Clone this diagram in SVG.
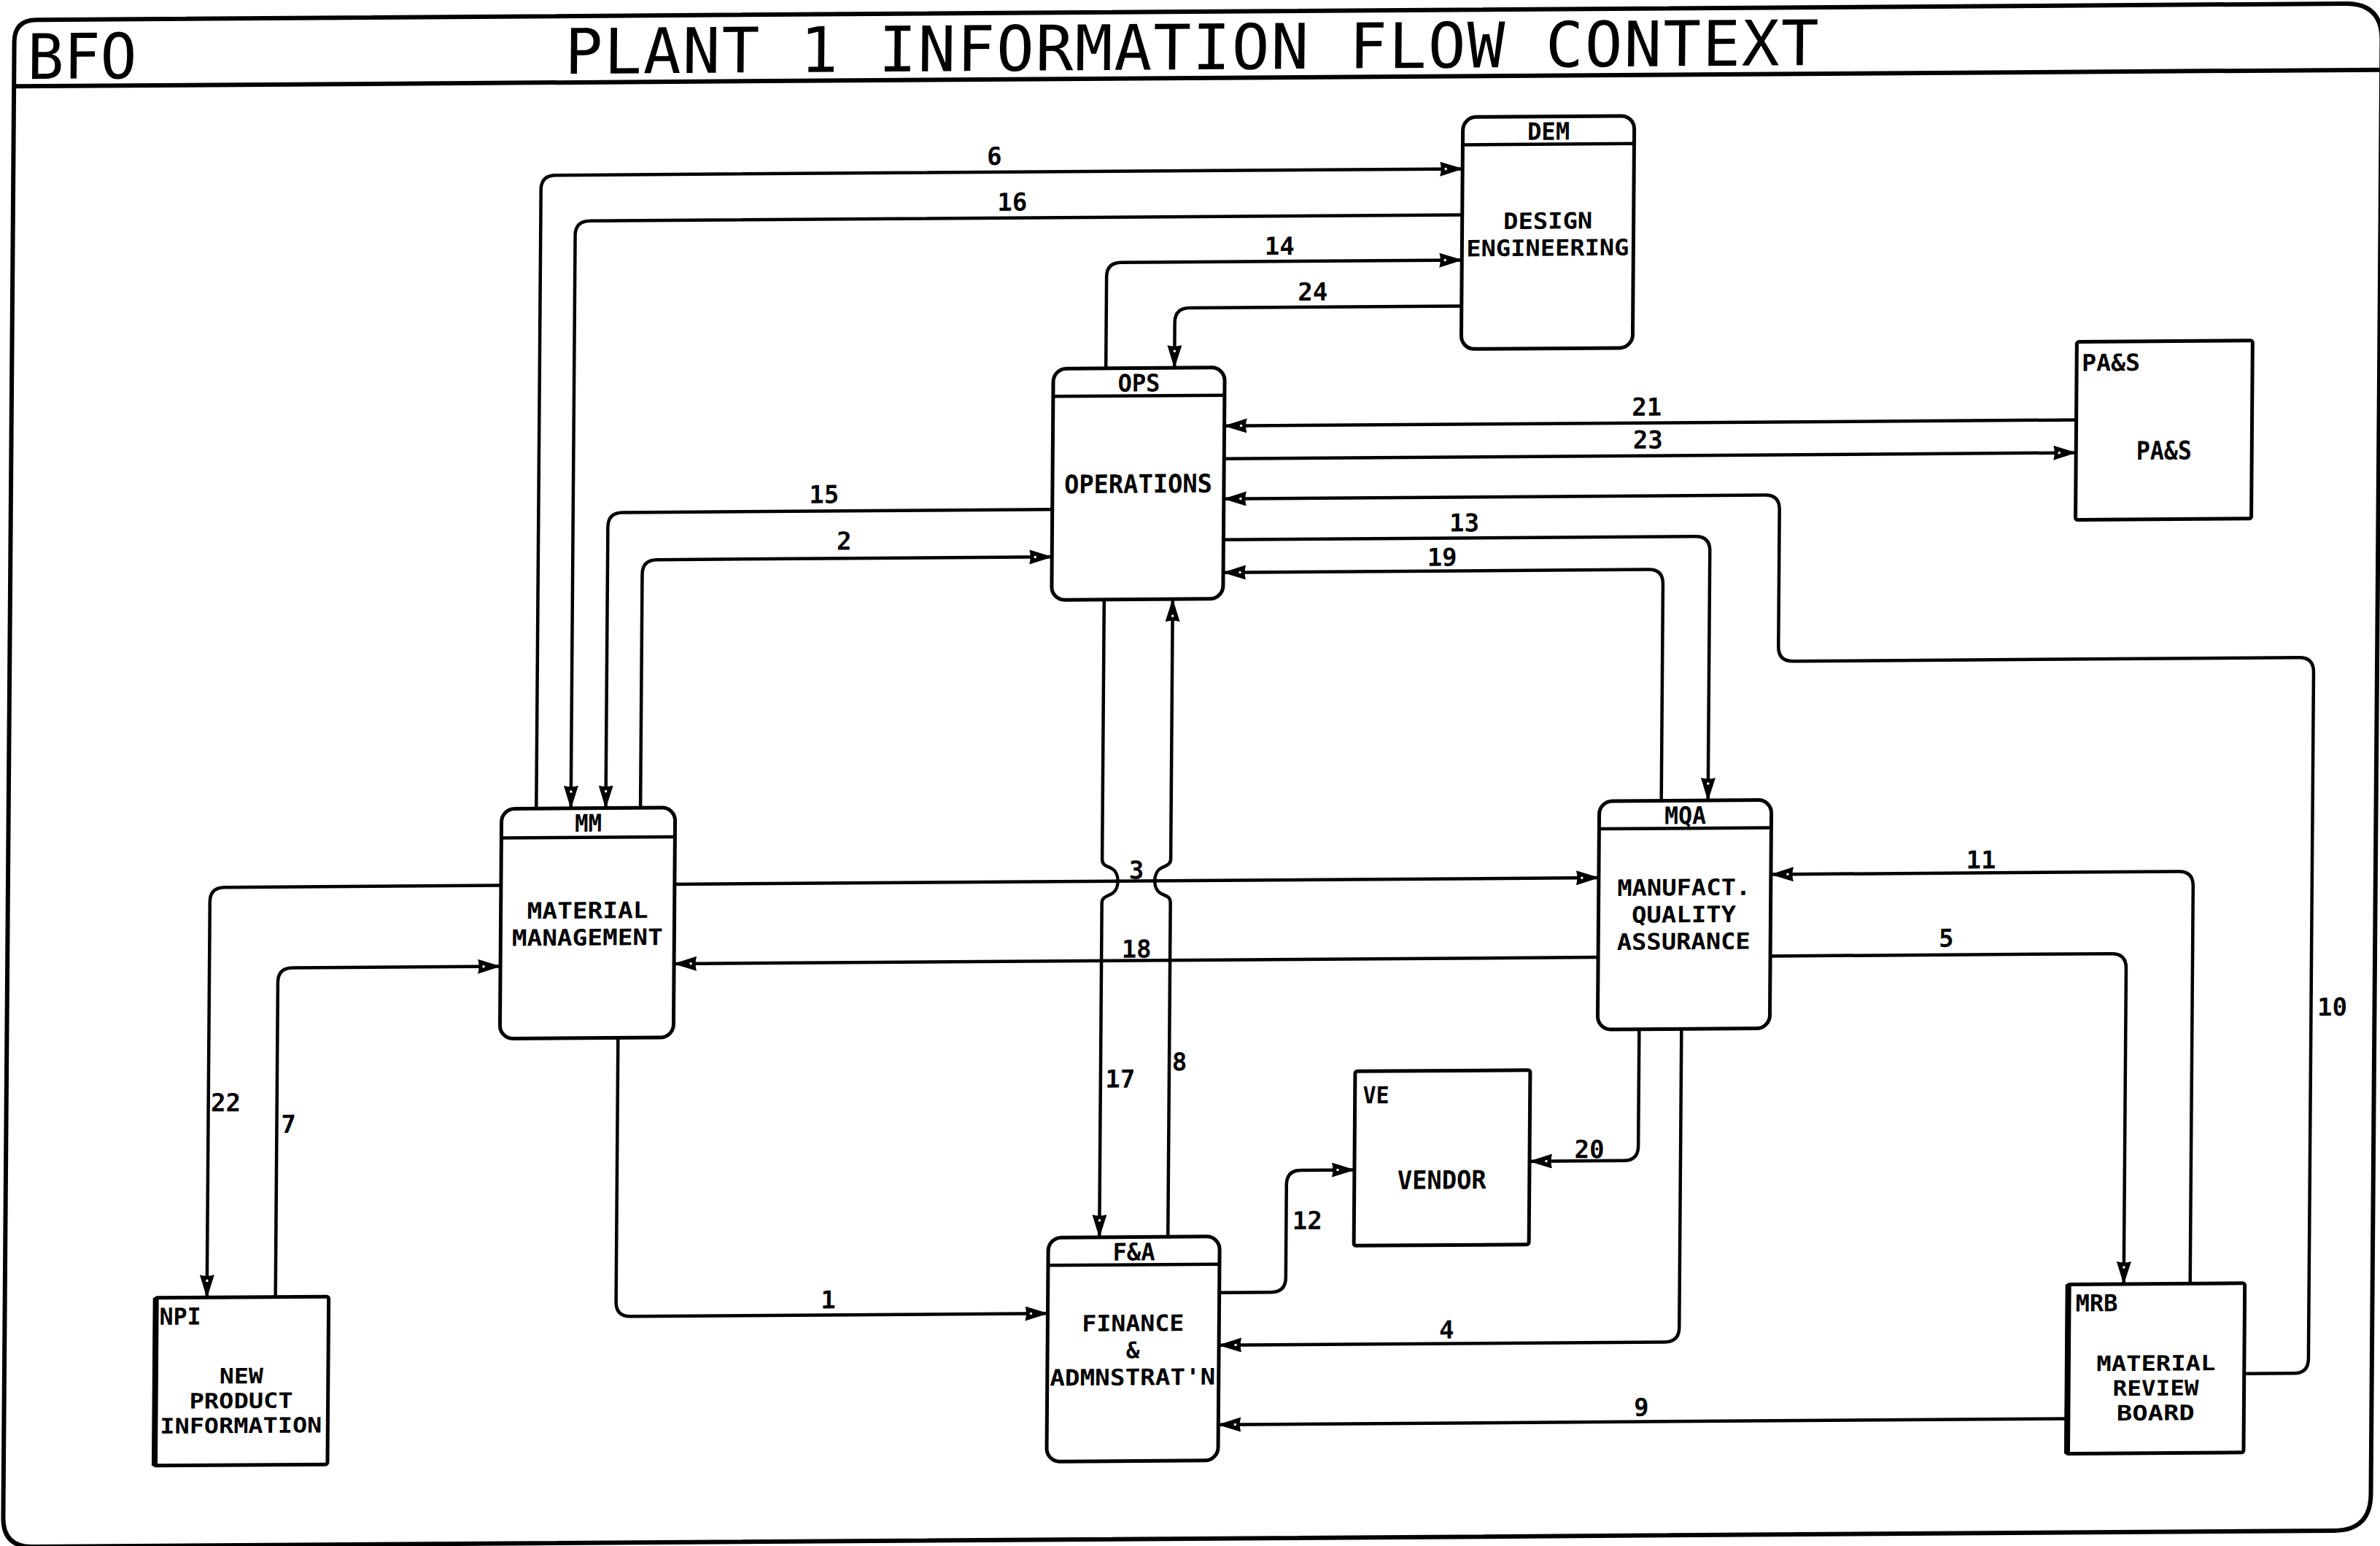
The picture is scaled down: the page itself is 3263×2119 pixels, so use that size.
<svg xmlns="http://www.w3.org/2000/svg" width="3263" height="2119" viewBox="0 0 3263 2119">
<style>
.fr{fill:none;stroke:#000;stroke-width:6}
.p{fill:#fff;stroke:#000;stroke-width:5}
.hl{stroke:#000;stroke-width:4.5}
.tk{stroke:#000;stroke-width:8}
.c{fill:none;stroke:#000;stroke-width:4.5;stroke-linejoin:round;marker-end:url(#ah)}
.b{font-family:"DejaVu Sans Mono","Liberation Mono",monospace;font-weight:bold;font-size:31px;text-anchor:middle;fill:#000}
.b1{font-family:"DejaVu Sans Mono","Liberation Mono",monospace;font-weight:bold;font-size:35px;text-anchor:middle;fill:#000}
.s{font-family:"DejaVu Sans Mono","Liberation Mono",monospace;font-weight:bold;font-size:29px;text-anchor:middle;fill:#000}
.h{font-family:"DejaVu Sans Mono","Liberation Mono",monospace;font-weight:bold;font-size:33px;text-anchor:middle;fill:#000}
.lb{font-family:"DejaVu Sans Mono","Liberation Mono",monospace;font-weight:bold;font-size:32px;fill:#000}
.num{font-family:"DejaVu Sans Mono","Liberation Mono",monospace;font-weight:bold;font-size:34px;text-anchor:middle;fill:#000}
.ti{font-family:"DejaVu Sans Mono","Liberation Mono",monospace;font-size:86px;fill:#000}
</style>
<defs>
<marker id="ah" markerUnits="userSpaceOnUse" viewBox="0 0 32 20" refX="31" refY="10" markerWidth="32" markerHeight="20" orient="auto">
<path d="M0,0 L32,10 L0,20 Q3,10 0,0 Z" fill="#000"/>
<circle cx="8" cy="10" r="1.8" fill="#fff"/>
</marker>
</defs>
<rect width="3263" height="2119" fill="#fff"/>
<g transform="matrix(1,-0.007,-0.0075,1,7.95,11.42)">
<g id="frame">
<path class="fr" d="M42,16 H3208 Q3258,16 3258,66 V2059 Q3258,2109 3208,2109 H52 Q12,2109 12,2069 V46 Q12,16 42,16 Z"/>
<line class="fr" x1="12" y1="107" x2="3258" y2="107"/>
<text class="ti" x="30" y="97" font-size="100" textLength="150" lengthAdjust="spacingAndGlyphs">BFO</text>
<text class="ti" x="767" y="95" textLength="1719" lengthAdjust="spacing">PLANT 1 INFORMATION FLOW CONTEXT</text>
</g>
<g id="connectors">
<path class="c" d="M735.6,1102 V254 Q735.6,234 755.6,234 H1999"/>
<path class="c" d="M1999,297 H803 Q783,297 783,317 V1102"/>
<path class="c" d="M1512,504 V379 Q1512,359 1532,359 H1999"/>
<path class="c" d="M1999,422 H1626 Q1606,422 1606,442 V504"/>
<path class="c" d="M2843,584 H1675"/>
<path class="c" d="M1675,629 H2843"/>
<path class="c" d="M3083,1893 H3151 Q3171,1893 3171,1873 V932 Q3171,912 3151,912 H2457 Q2437,912 2437,892 V704 Q2437,684 2417,684 H1675"/>
<path class="c" d="M1675,740 H2322 Q2342,740 2342,760 V1102"/>
<path class="c" d="M2278,1102 V805 Q2278,785 2258,785 H1675"/>
<path class="c" d="M1440,697 H850.8 Q830.8,697 830.8,717 V1102"/>
<path class="c" d="M878.4,1102 V782 Q878.4,762 898.4,762 H1440"/>
<path class="c" d="M926,1207 H2193"/>
<path class="c" d="M2193,1316 H926"/>
<path class="c" d="M688,1207 H309 Q289,1207 289,1227 V1769"/>
<path class="c" d="M383,1769 V1338 Q383,1318 403,1318 H688"/>
<path class="c" d="M850,1417 V1779 Q850,1799 870,1799 H1442"/>
<path class="c" d="M1677,1772 H1748 Q1768,1772 1768,1752 V1625 Q1768,1605 1788,1605 H1861"/>
<path class="c" d="M2250,1415 V1575 Q2250,1595 2230,1595 H2101"/>
<path class="c" d="M2308,1415 V1824 Q2308,1844 2288,1844 H1677"/>
<path class="c" d="M2840,1953 H1677"/>
<path class="c" d="M3008,1769 V1224 Q3008,1204 2988,1204 H2429"/>
<path class="c" d="M2429,1316 H2897 Q2917,1316 2917,1336 V1769"/>
<path class="c" d="M1512,821 V1177 C1512,1185 1518,1186 1524,1189 C1537,1195 1537,1219 1524,1225 C1518,1228 1512,1229 1512,1237 V1695"/>
<path class="c" d="M1606,1695 V1237 C1606,1229 1600,1228 1594,1225 C1581,1219 1581,1195 1594,1189 C1600,1186 1606,1185 1606,1177 V821"/>
<text class="num" x="1357" y="224">6</text>
<text class="num" x="1382" y="287">16</text>
<text class="num" x="1749" y="350">14</text>
<text class="num" x="1795" y="413">24</text>
<text class="num" x="2254" y="574">21</text>
<text class="num" x="2256" y="619">23</text>
<text class="num" x="1127" y="686">15</text>
<text class="num" x="1155" y="750">2</text>
<text class="num" x="2005" y="731">13</text>
<text class="num" x="1975" y="778">19</text>
<text class="num" x="3200" y="1403">10</text>
<text class="num" x="2717" y="1198">11</text>
<text class="num" x="2670" y="1305">5</text>
<text class="num" x="1559" y="1204">3</text>
<text class="num" x="1560" y="1312">18</text>
<text class="num" x="1539" y="1490">17</text>
<text class="num" x="1620" y="1467">8</text>
<text class="num" x="313" y="1514">22</text>
<text class="num" x="399" y="1544">7</text>
<text class="num" x="1141" y="1790">1</text>
<text class="num" x="1797" y="1686">12</text>
<text class="num" x="2183" y="1591">20</text>
<text class="num" x="1989" y="1837">4</text>
<text class="num" x="2257" y="1945">9</text>
</g>
<g id="DEM">
<rect class="p" x="1999" y="163" width="235" height="318" rx="18"/>
<line class="hl" x1="1999" y1="201" x2="2234" y2="201"/>
<text class="h" x="2116.5" y="195" textLength="58" lengthAdjust="spacingAndGlyphs">DEM</text>
<text class="b" x="2116.5" y="317" textLength="122" lengthAdjust="spacingAndGlyphs">DESIGN</text>
<text class="b" x="2116.5" y="354" textLength="223" lengthAdjust="spacingAndGlyphs">ENGINEERING</text>
</g>
<g id="OPS">
<rect class="p" x="1440" y="504" width="235" height="317" rx="18"/>
<line class="hl" x1="1440" y1="542" x2="1675" y2="542"/>
<text class="h" x="1557.5" y="536" textLength="58" lengthAdjust="spacingAndGlyphs">OPS</text>
<text class="b1" x="1557.5" y="675" textLength="203" lengthAdjust="spacingAndGlyphs">OPERATIONS</text>
</g>
<g id="MM">
<rect class="p" x="688" y="1102" width="238" height="315" rx="18"/>
<line class="hl" x1="688" y1="1142" x2="926" y2="1142"/>
<text class="h" x="807" y="1134" textLength="37" lengthAdjust="spacingAndGlyphs">MM</text>
<text class="b" x="807" y="1253" textLength="166" lengthAdjust="spacingAndGlyphs">MATERIAL</text>
<text class="b" x="807" y="1290" textLength="207" lengthAdjust="spacingAndGlyphs">MANAGEMENT</text>
</g>
<g id="MQA">
<rect class="p" x="2193" y="1102" width="236" height="313" rx="18"/>
<line class="hl" x1="2193" y1="1140" x2="2429" y2="1140"/>
<text class="h" x="2311" y="1134" textLength="57" lengthAdjust="spacingAndGlyphs">MQA</text>
<text class="b" x="2310" y="1232" textLength="183" lengthAdjust="spacingAndGlyphs">MANUFACT.</text>
<text class="b" x="2310" y="1269" textLength="143" lengthAdjust="spacingAndGlyphs">QUALITY</text>
<text class="b" x="2310" y="1306" textLength="183" lengthAdjust="spacingAndGlyphs">ASSURANCE</text>
</g>
<g id="FA">
<rect class="p" x="1442" y="1695" width="235" height="307" rx="18"/>
<line class="hl" x1="1442" y1="1733" x2="1677" y2="1733"/>
<text class="h" x="1559.5" y="1727" textLength="58" lengthAdjust="spacingAndGlyphs">F&amp;A</text>
<text class="b" x="1559" y="1824" textLength="140" lengthAdjust="spacingAndGlyphs">FINANCE</text>
<text class="b" x="1559" y="1861">&amp;</text>
<text class="b" x="1559" y="1898" textLength="227" lengthAdjust="spacingAndGlyphs">ADMNSTRAT'N</text>
</g>
<g id="PAS">
<rect class="p" x="2843" y="477" width="241" height="244" rx="3"/>
<text class="lb" x="2850" y="517" textLength="80" lengthAdjust="spacingAndGlyphs">PA&amp;S</text>
<text class="b1" x="2963.5" y="639" textLength="76" lengthAdjust="spacingAndGlyphs">PA&amp;S</text>
</g>
<g id="VE">
<rect class="p" x="1861" y="1470" width="240" height="239" rx="3"/>
<text class="lb" x="1872" y="1514" textLength="36" lengthAdjust="spacingAndGlyphs">VE</text>
<text class="b1" x="1981" y="1632" textLength="122" lengthAdjust="spacingAndGlyphs">VENDOR</text>
</g>
<g id="NPI">
<rect class="p" x="218" y="1769" width="238" height="230" rx="3"/>
<line class="tk" x1="219" y1="1769" x2="219" y2="1999"/>
<text class="lb" x="224" y="1806" textLength="57" lengthAdjust="spacingAndGlyphs">NPI</text>
<text class="s" x="337" y="1887" textLength="60" lengthAdjust="spacingAndGlyphs">NEW</text>
<text class="s" x="337" y="1921" textLength="142" lengthAdjust="spacingAndGlyphs">PRODUCT</text>
<text class="s" x="337" y="1955" textLength="222" lengthAdjust="spacingAndGlyphs">INFORMATION</text>
</g>
<g id="MRB">
<rect class="p" x="2840" y="1769" width="243" height="232" rx="3"/>
<line class="tk" x1="2841" y1="1769" x2="2841" y2="2001"/>
<text class="lb" x="2851" y="1806" textLength="58" lengthAdjust="spacingAndGlyphs">MRB</text>
<text class="s" x="2962" y="1888" textLength="163" lengthAdjust="spacingAndGlyphs">MATERIAL</text>
<text class="s" x="2962" y="1922" textLength="118" lengthAdjust="spacingAndGlyphs">REVIEW</text>
<text class="s" x="2962" y="1956" textLength="107" lengthAdjust="spacingAndGlyphs">BOARD</text>
</g>
</g>
</svg>
